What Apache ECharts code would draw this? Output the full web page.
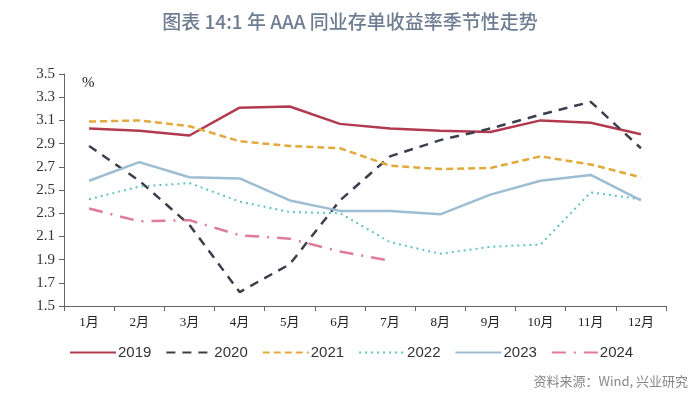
<!DOCTYPE html>
<html><head><meta charset="utf-8">
<script src="https://cdn.jsdelivr.net/npm/echarts@6/dist/echarts.min.js"></script>
<style>html,body{margin:0;padding:0;background:#fff}#c{width:700px;height:400px}</style>
</head><body><div id="c"></div>
<script>
const months = ['1月','2月','3月','4月','5月','6月','7月','8月','9月','10月','11月','12月'];
const yTicks = [1.5,1.7,1.9,2.1,2.3,2.5,2.7,2.9,3.1,3.3,3.5];
const y2019 = [3.03,3.01,2.97,3.21,3.22,3.07,3.03,3.01,3.00,3.10,3.08,2.98];
const y2020 = [2.88,2.58,2.20,1.62,1.86,2.41,2.79,2.93,3.03,3.15,3.26,2.86];
const y2021 = [3.09,3.10,3.05,2.92,2.88,2.86,2.71,2.68,2.69,2.79,2.72,2.61];
const y2022 = [2.42,2.53,2.56,2.40,2.31,2.30,2.05,1.95,2.01,2.03,2.48,2.42];
const y2023 = [2.58,2.74,2.61,2.60,2.41,2.32,2.32,2.29,2.46,2.58,2.63,2.41];
const y2024 = [2.34,2.23,2.24,2.11,2.08,1.97,1.89];

const chart = echarts.init(document.getElementById('c'), null, {renderer:'canvas'});
function s(name, data, color, type, width){
  return {name, type:'line', data, symbol:'none', smooth:false,
    lineStyle:{color, width: width||2.5, type}, itemStyle:{color}};
}
chart.setOption({
  animation:false,
  title:{text:'图表 14:1 年 AAA 同业存单收益率季节性走势', left:'center', top:7,
    textStyle:{fontFamily:'Noto Sans CJK SC', fontSize:19, fontWeight:500, color:'#6f7d92'}},
  graphic:[
    {type:'text', left:82, top:76, style:{text:'%', font:'15px "Liberation Serif"', fill:'#222'}},
    {type:'text', right:12, top:375, style:{text:'资料来源：Wind, 兴业研究', font:'13px "Noto Sans CJK SC"', fill:'#888'}}
  ],
  legend:{top:340, left:64, itemWidth:46, itemHeight:10, itemGap:14,
    itemStyle:{opacity:0},
    textStyle:{fontFamily:'Liberation Sans Narrow, Liberation Sans', fontSize:15, color:'#333', padding:[0,0,0,-3]},
    data:['2019','2020','2021','2022','2023','2024']},
  grid:{left:64, right:34, top:74, bottom:94},
  xAxis:{type:'category', data:months, boundaryGap:true,
    axisLine:{lineStyle:{color:'#666', width:1}},
    axisTick:{show:true, alignWithLabel:false, length:5, lineStyle:{color:'#666'}},
    axisLabel:{fontFamily:'Liberation Serif, Noto Sans CJK SC', fontSize:13, color:'#222', margin:10}},
  yAxis:{type:'value', min:1.5, max:3.5,
    splitLine:{show:false},
    axisLine:{show:true, lineStyle:{color:'#666', width:1}},
    axisTick:{show:true, inside:false, length:5, customValues:yTicks, lineStyle:{color:'#666'}},
    axisLabel:{customValues:yTicks, fontFamily:'Liberation Serif', fontSize:15, color:'#333', margin:9,
      formatter:v=>v.toFixed(1)}},
  series:[
    s('2019', y2019, '#b13a51', 'solid', 2.5),
    s('2020', y2020, '#3b3f4c', [9,7], 2.5),
    s('2021', y2021, '#e2aa3c', [7,4], 2.5),
    s('2022', y2022, '#5fc3bf', [2,4], 2),
    s('2023', y2023, '#9dbdd2', 'solid', 2.5),
    s('2024', y2024, '#e07c98', [14,8,2,8], 2.5)
  ]
});
</script></body></html>
